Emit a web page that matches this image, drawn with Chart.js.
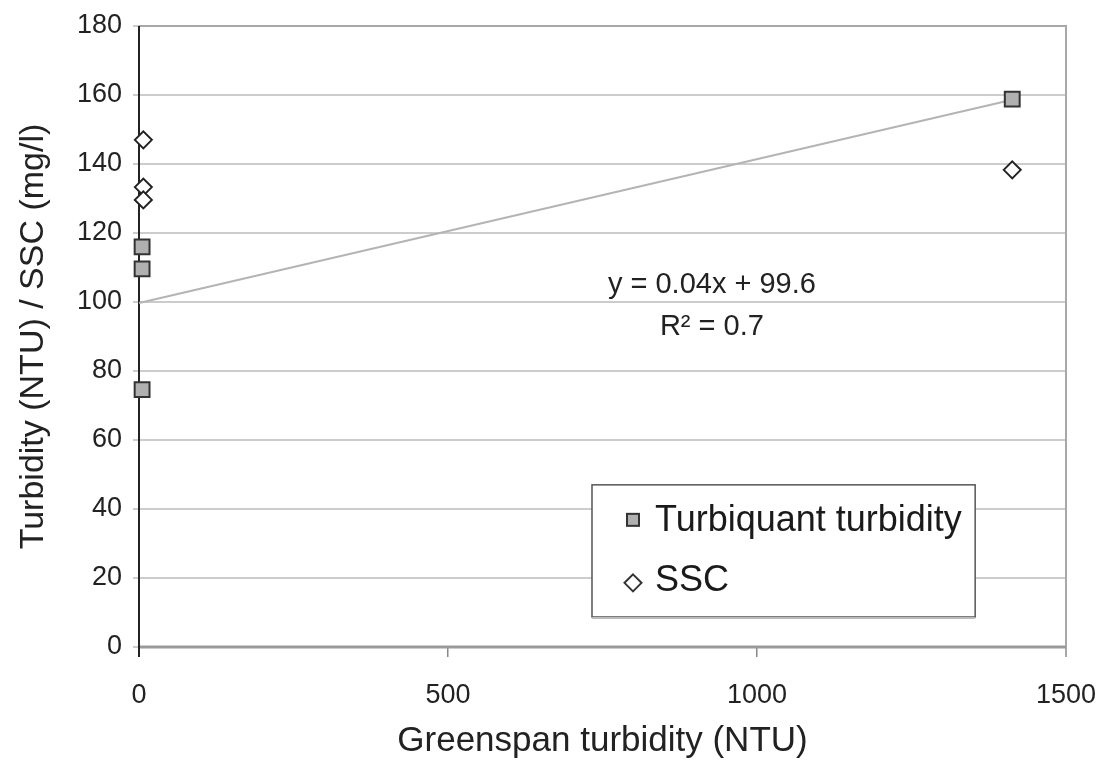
<!DOCTYPE html>
<html>
<head>
<meta charset="utf-8">
<script src="https://cdn.jsdelivr.net/npm/chart.js@4.4.1/dist/chart.umd.min.js"></script>
<style>
  html, body { margin: 0; padding: 0; background: #fff; }
  #wrap { width: 1099px; height: 764px; }
</style>
</head>
<body>
<div id="wrap"><canvas id="c" width="1099" height="764"></canvas></div>
<script>
// Data
const turbiquantX = [5, 5, 5, 1413];
const turbiquantY = [116.0, 109.6, 74.6, 158.8];
const sscX = [7, 7, 7, 1413];
const sscY = [147.0, 133.3, 129.6, 138.3];
const trendX = [0, 1413];
const trendY = [99.7, 158.6];
const yTicks = [0, 20, 40, 60, 80, 100, 120, 140, 160, 180];
const xTicks = [0, 500, 1000, 1500];
const seriesNames = ['Turbiquant turbidity', 'SSC'];
const equationLines = ['y = 0.04x + 99.6', 'R\u00B2 = 0.7'];

const FONT = "'Liberation Sans', Arial, Helvetica, sans-serif";
const toPts = (xs, ys) => xs.map((x, i) => ({ x: x, y: ys[i] }));

const framePlugin = {
  id: 'frame',
  beforeDatasetsDraw(chart) {
    const { ctx, chartArea: a } = chart;
    ctx.save();
    ctx.strokeStyle = '#a8a8a8';
    ctx.lineWidth = 2;
    ctx.beginPath();
    ctx.moveTo(a.left, a.top);
    ctx.lineTo(a.right, a.top);
    ctx.lineTo(a.right, a.bottom + 10);
    ctx.stroke();
    ctx.strokeStyle = '#9a9a9a';
    ctx.lineWidth = 3;
    ctx.beginPath();
    ctx.moveTo(a.left, a.bottom);
    ctx.lineTo(a.right, a.bottom);
    ctx.stroke();
    ctx.strokeStyle = '#222';
    ctx.lineWidth = 2;
    ctx.beginPath();
    ctx.moveTo(a.left, a.top);
    ctx.lineTo(a.left, a.bottom + 10);
    ctx.stroke();
    ctx.restore();
  },
  afterDatasetsDraw(chart) {
    const { ctx } = chart;
    const xs = chart.scales.x, ys = chart.scales.y;
    ctx.save();
    ctx.fillStyle = '#222';
    ctx.font = '29px ' + FONT;
    ctx.textAlign = 'center';
    ctx.textBaseline = 'middle';
    const ex = xs.getPixelForValue(927);
    ctx.fillText(equationLines[0], ex, ys.getPixelForValue(104.9));
    ctx.fillText(equationLines[1], ex, ys.getPixelForValue(92.8));

    // legend box
    const L = xs.getPixelForValue(733), R = xs.getPixelForValue(1353);
    const T = ys.getPixelForValue(47), B = ys.getPixelForValue(8.7);
    ctx.fillStyle = '#fff';
    ctx.fillRect(L, T, R - L, B - T);
    ctx.strokeStyle = '#555';
    ctx.lineWidth = 1.5;
    ctx.strokeRect(L, T, R - L, B - T);
    ctx.strokeStyle = '#bbb';
    ctx.lineWidth = 2;
    ctx.beginPath();
    ctx.moveTo(L, B + 1);
    ctx.lineTo(R, B + 1);
    ctx.stroke();

    const row1 = T + 35, row2 = T + 98;
    const mx = L + 41;
    ctx.fillStyle = '#b0b0b0';
    ctx.strokeStyle = '#333';
    ctx.lineWidth = 2;
    ctx.fillRect(mx - 6, row1 - 6, 12, 12);
    ctx.strokeRect(mx - 6, row1 - 6, 12, 12);
    ctx.fillStyle = '#fff';
    ctx.beginPath();
    ctx.moveTo(mx, row2 - 8.5);
    ctx.lineTo(mx + 8.5, row2);
    ctx.lineTo(mx, row2 + 8.5);
    ctx.lineTo(mx - 8.5, row2);
    ctx.closePath();
    ctx.fill();
    ctx.stroke();

    ctx.fillStyle = '#1a1a1a';
    ctx.font = '36px ' + FONT;
    ctx.textAlign = 'left';
    ctx.fillText(seriesNames[0], L + 63, row1 + 1);
    ctx.fillText(seriesNames[1], L + 63, row2 - 2);
    ctx.restore();
  }
};

new Chart(document.getElementById('c'), {
  type: 'scatter',
  data: {
    datasets: [
      {
        label: 'trend',
        type: 'line',
        data: toPts(trendX, trendY),
        borderColor: '#b4b4b4',
        borderWidth: 2,
        pointRadius: 0,
        fill: false,
        clip: false,
        order: 3
      },
      {
        label: seriesNames[0],
        data: toPts(turbiquantX, turbiquantY),
        pointStyle: 'rect',
        pointRadius: 10.5,
        backgroundColor: '#b0b0b0',
        borderColor: '#333',
        borderWidth: 2,
        clip: false,
        order: 1
      },
      {
        label: seriesNames[1],
        data: toPts(sscX, sscY),
        pointStyle: 'rectRot',
        pointRadius: 8.5,
        backgroundColor: '#fff',
        borderColor: '#222',
        borderWidth: 2,
        clip: false,
        order: 2
      }
    ]
  },
  options: {
    responsive: false,
    animation: false,
    layout: { padding: { top: 26, right: 33, left: 0, bottom: 0 } },
    plugins: {
      legend: { display: false },
      tooltip: { enabled: false }
    },
    scales: {
      x: {
        type: 'linear',
        min: 0, max: 1500,
        afterBuildTicks: (s) => { s.ticks = xTicks.map(v => ({ value: v })); },
        afterFit: (s) => { s.height = 764 - 647; s.paddingLeft = 0; s.paddingRight = 0; },
        grid: { display: true, drawOnChartArea: false, drawTicks: true, tickLength: 10, color: '#888', lineWidth: 1.5 },
        border: { display: false },
        ticks: { color: '#222', font: { family: FONT, size: 27 }, padding: 22, maxRotation: 0, callback: (v) => String(v) },
        title: { display: true, text: 'Greenspan turbidity (NTU)', color: '#222', font: { family: FONT, size: 35 }, padding: { top: 0, bottom: 2 } }
      },
      y: {
        type: 'linear',
        min: 0, max: 180,
        afterBuildTicks: (s) => { s.ticks = yTicks.map(v => ({ value: v })); },
        afterFit: (s) => { s.width = 139; s.paddingTop = 0; s.paddingBottom = 0; },
        grid: { color: '#cccccc', lineWidth: 2, drawTicks: true, tickLength: 6 },
        border: { display: false },
        ticks: { color: '#222', font: { family: FONT, size: 27 }, padding: 11, callback: (v) => String(v) },
        title: { display: true, text: 'Turbidity (NTU) / SSC (mg/l)', color: '#222', font: { family: FONT, size: 34 }, padding: { top: 13, bottom: 0 } }
      }
    }
  },
  plugins: [framePlugin]
});
</script>
</body>
</html>
